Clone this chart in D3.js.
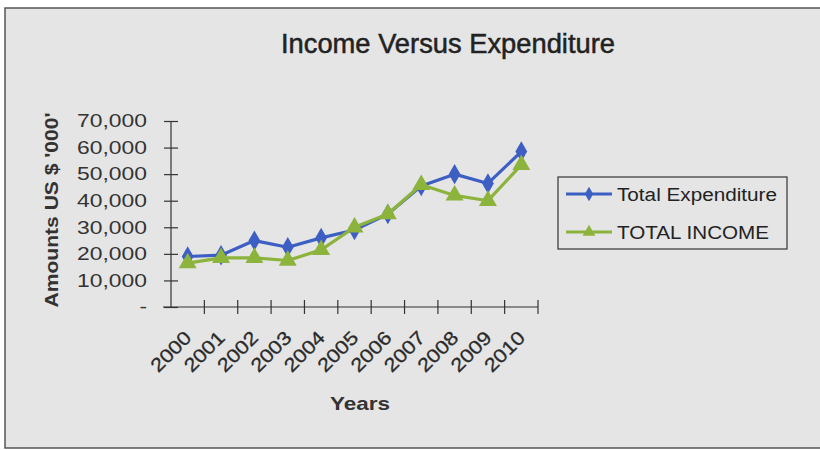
<!DOCTYPE html>
<html>
<head>
<meta charset="utf-8">
<script src="https://cdn.jsdelivr.net/npm/d3@7"></script>
<style>
  html, body { margin: 0; padding: 0; background: #ffffff; }
  svg { display: block; font-family: "Liberation Sans", Arial, sans-serif; }
</style>
</head>
<body>
<svg id="chart" width="820" height="450"></svg>
<script>
// Yearly totals, in thousands of US dollars
const years = ["2000","2001","2002","2003","2004","2005","2006","2007","2008","2009","2010"];
const totalExpenditure = [19000, 19500, 25000, 22500, 26000, 29000, 35000, 45500, 50000, 46500, 58500];
const totalIncome      = [16500, 18500, 18500, 17500, 21500, 30000, 35000, 46000, 42000, 40000, 53500];
const yTicks = [0, 10000, 20000, 30000, 40000, 50000, 60000, 70000];
const seriesNames = ["Total Expenditure", "TOTAL INCOME"];
const seriesColors = ["#3d5fc4", "#8cb33c"];

const svg = d3.select("#chart");

// widen a text element along its reading direction
function stretch(sel, factor) {
  sel.each(function () {
    const w = this.getComputedTextLength();
    d3.select(this).attr("textLength", w * factor).attr("lengthAdjust", "spacingAndGlyphs");
  });
}

// panel background and frame
svg.append("rect").attr("x", 5).attr("y", 8).attr("width", 830).attr("height", 440)
  .attr("fill", "#e5e5e5").attr("stroke", "#555").attr("stroke-width", 1.5);

const plot = { left: 171, right: 538, top: 121, bottom: 307 };

const x = d3.scaleBand().domain(years).range([plot.left, plot.right]).paddingInner(0).paddingOuter(0);
const y = d3.scaleLinear().domain([0, 70000]).range([plot.bottom, plot.top]);

// title
svg.append("text").attr("x", 448).attr("y", 53).attr("text-anchor", "middle")
  .attr("font-size", 27).attr("fill", "#222").attr("stroke", "#222").attr("stroke-width", 0.5)
  .attr("textLength", 334).attr("lengthAdjust", "spacingAndGlyphs")
  .text("Income Versus Expenditure");

// y axis
const fmt = d => d === 0 ? "-" : d3.format(",")(d);
const yAxis = svg.append("g").attr("transform", `translate(${plot.left},0)`)
  .call(d3.axisLeft(y).tickValues(yTicks).tickFormat(fmt).tickSize(7).tickPadding(17));
yAxis.select(".domain").attr("stroke", "#333").attr("stroke-width", 1.2).attr("d", `M0,${plot.top}V${plot.bottom}`);
yAxis.selectAll(".tick line").attr("stroke", "#333").attr("x1", 7).attr("x2", -7).attr("stroke-width", 1.2);
yAxis.selectAll(".tick text").attr("font-size", 18).attr("fill", "#333")
  .attr("font-family", "'Liberation Sans', Arial, sans-serif").call(stretch, 1.27);

// x axis (ticks sit between categories)
const boundaries = years.map(d => x(d)).concat([plot.right]);
const xAxisG = svg.append("g");
xAxisG.append("line").attr("x1", plot.left - 8).attr("x2", plot.right).attr("y1", plot.bottom).attr("y2", plot.bottom)
  .attr("stroke", "#333").attr("stroke-width", 1.2);
xAxisG.selectAll("line.tk").data(boundaries.slice(1)).join("line").attr("class", "tk")
  .attr("x1", d => d).attr("x2", d => d).attr("y1", plot.bottom - 7).attr("y2", plot.bottom + 7)
  .attr("stroke", "#333").attr("stroke-width", 1.2);
xAxisG.selectAll("text").data(years).join("text")
  .attr("transform", d => `translate(${x(d) + x.bandwidth() / 2 + 5},${plot.bottom + 32}) rotate(-45)`)
  .attr("text-anchor", "end").attr("font-size", 19).attr("fill", "#2a2a2a")
  .attr("stroke", "#2a2a2a").attr("stroke-width", 0.3)
  .text(d => d).call(stretch, 1.15);

// axis titles
svg.append("text").attr("transform", "translate(58,210) rotate(-90)").attr("text-anchor", "middle")
  .attr("font-size", 18).attr("font-weight", "bold").attr("fill", "#333")
  .attr("textLength", 195).attr("lengthAdjust", "spacingAndGlyphs")
  .text("Amounts US $ '000'");
svg.append("text").attr("x", 360).attr("y", 410).attr("text-anchor", "middle")
  .attr("font-size", 19).attr("font-weight", "bold").attr("fill", "#333")
  .attr("textLength", 60).attr("lengthAdjust", "spacingAndGlyphs")
  .text("Years");

// series
const cx = d => x(d) + x.bandwidth() / 2;
const line = d3.line().x((d, i) => cx(years[i])).y(d => y(d));
const diamond = d3.symbol().type(d3.symbolDiamond).size(120);
const triangle = d3.symbol().type(d3.symbolTriangle).size(140);

[[totalExpenditure, diamond], [totalIncome, triangle]].forEach(([vals, sym], k) => {
  const g = svg.append("g");
  g.append("path").datum(vals).attr("d", line).attr("fill", "none")
    .attr("stroke", seriesColors[k]).attr("stroke-width", 3.2).attr("stroke-linejoin", "round");
  g.selectAll("path.m").data(vals).join("path").attr("class", "m")
    .attr("d", sym).attr("transform", (d, i) => `translate(${cx(years[i])},${y(d)})`)
    .attr("fill", seriesColors[k]);
});

// legend
const lg = svg.append("g");
lg.append("rect").attr("x", 558).attr("y", 177).attr("width", 229).attr("height", 72)
  .attr("fill", "none").attr("stroke", "#333").attr("stroke-width", 1.2);
const legendSyms = [d3.symbol().type(d3.symbolDiamond).size(60), d3.symbol().type(d3.symbolTriangle).size(70)];
const legendWidths = [160, 152];
seriesNames.forEach((name, k) => {
  const ly = 194 + k * 38;
  lg.append("line").attr("x1", 566).attr("x2", 612).attr("y1", ly).attr("y2", ly)
    .attr("stroke", seriesColors[k]).attr("stroke-width", 3);
  lg.append("path").attr("d", legendSyms[k]).attr("transform", `translate(589,${ly})`).attr("fill", seriesColors[k]);
  lg.append("text").attr("x", 617).attr("y", ly + 7).attr("font-size", 18).attr("fill", "#222")
    .attr("textLength", legendWidths[k]).attr("lengthAdjust", "spacingAndGlyphs").text(name);
});
</script>
</body>
</html>
